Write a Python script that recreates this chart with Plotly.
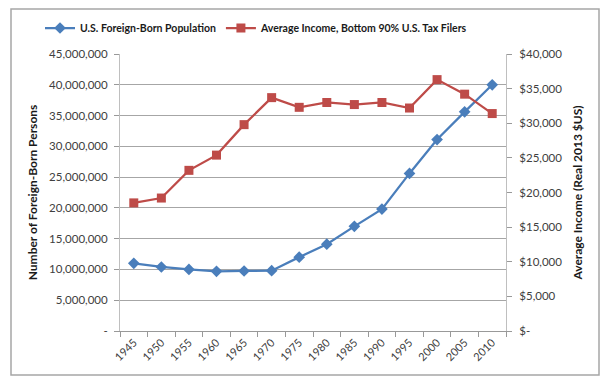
import plotly.graph_objects as go

years = ["1945", "1950", "1955", "1960", "1965", "1970", "1975", "1980",
         "1985", "1990", "1995", "2000", "2005", "2010"]
foreign_born = [11.0e6, 10.4e6, 10.0e6, 9.7e6, 9.75e6, 9.8e6, 12.0e6, 14.1e6,
                17.0e6, 19.8e6, 25.6e6, 31.1e6, 35.6e6, 40.0e6]
avg_income = [18500, 19200, 23200, 25400, 29800, 33700, 32300, 33000,
              32700, 33000, 32200, 36300, 34200, 31400]

left_tickvals = [0, 5e6, 10e6, 15e6, 20e6, 25e6, 30e6, 35e6, 40e6, 45e6]
left_ticktext = ["-", "5,000,000", "10,000,000", "15,000,000", "20,000,000",
                 "25,000,000", "30,000,000", "35,000,000", "40,000,000", "45,000,000"]
right_tickvals = [0, 5000, 10000, 15000, 20000, 25000, 30000, 35000, 40000]
right_ticktext = ["$-", "$5,000", "$10,000", "$15,000", "$20,000", "$25,000",
                  "$30,000", "$35,000", "$40,000"]

BLUE = "#4A7EBB"
RED = "#BE4B48"
FONT = "Lato"

W, H = 610, 385
L, R, T, B = 120, 506, 54, 331

def px2x(px):
    return (px - L) / (R - L)

def px2y(py):
    return (B - py) / (B - T)

fig = go.Figure()
fig.add_trace(go.Scatter(
    x=years, y=foreign_born, name="<b>U.S. Foreign-Born Population</b>",
    mode="lines+markers", line=dict(color=BLUE, width=2.25),
    marker=dict(symbol="diamond", size=9, color=BLUE), yaxis="y"))
fig.add_trace(go.Scatter(
    x=years, y=avg_income, name="<b>Average Income, Bottom 90% U.S. Tax Filers</b>",
    mode="lines+markers", line=dict(color=RED, width=2.25),
    marker=dict(symbol="square", size=9, color=RED), yaxis="y2"))

fig.update_layout(
    width=W, height=H,
    margin=dict(l=L, r=W - R, t=T, b=H - B, autoexpand=False),
    paper_bgcolor="white", plot_bgcolor="white",
    font=dict(family=FONT, size=11, color="#404040"),
    showlegend=True,
    legend=dict(orientation="h", x=px2x(40), y=px2y(28), xanchor="left",
                yanchor="middle", font=dict(size=10.5, color="#1a1a1a", family=FONT),
                itemwidth=30, bgcolor="rgba(0,0,0,0)"),
    xaxis=dict(type="category", tickangle=-45, tickson="boundaries",
               ticks="outside", ticklen=5, tickcolor="#999999",
               showline=True, linecolor="#999999", linewidth=1,
               showgrid=False, tickfont=dict(size=11, color="#404040"),
               range=[-0.5, 13.5], automargin=False),
    yaxis=dict(range=[0, 45e6], tickvals=left_tickvals, ticktext=left_ticktext,
               showgrid=True, gridcolor="#A6A6A6", gridwidth=1,
               showline=True, linecolor="#BFBFBF", linewidth=1,
               ticks="outside", ticklen=5, tickcolor="#999999",
               zeroline=False, tickfont=dict(size=11.5, color="#404040"),
               automargin=False, ticklabelstandoff=4,
               title=dict(text="<b>Number of Foreign-Born Persons</b>",
                          font=dict(size=12, color="#1a1a1a"), standoff=8)),
    yaxis2=dict(range=[0, 40000], tickvals=right_tickvals, ticktext=right_ticktext,
                overlaying="y", side="right", showgrid=False,
                showline=True, linecolor="#BFBFBF", linewidth=1,
                ticks="outside", ticklen=5, tickcolor="#999999",
                zeroline=False, tickfont=dict(size=11.5, color="#404040"),
                automargin=False, ticklabelstandoff=5,
                title=dict(text="<b>Average Income (Real 2013 $US)</b>",
                           font=dict(size=12, color="#1a1a1a"), standoff=12)),
    shapes=[dict(type="rect", xref="paper", yref="paper",
                 x0=px2x(11), x1=px2x(599), y0=px2y(375), y1=px2y(9),
                 line=dict(color="#A6A6A6", width=1.5), layer="below")],
)

fig.write_html("out.html", config={"displayModeBar": False},
               post_script="document.body.style.margin='0';")
